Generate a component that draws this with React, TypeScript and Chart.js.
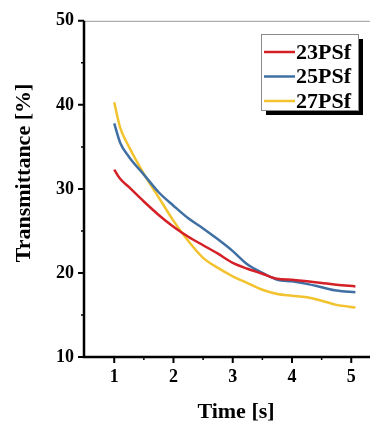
import React, { useEffect, useRef } from "react";
import { Chart, registerables } from "chart.js";

Chart.register(...registerables);

const times = [1, 1.1, 1.25, 1.5, 1.75, 2, 2.25, 2.5, 2.75, 3, 3.25, 3.5, 3.75, 4, 4.25, 4.5, 4.75, 5.07];
const s23 = [32.3, 31.2, 30.2, 28.5, 26.9, 25.5, 24.3, 23.3, 22.3, 21.2, 20.5, 19.9, 19.3, 19.2, 19.0, 18.8, 18.6, 18.4];
const s25 = [37.8, 35.5, 33.8, 31.7, 29.6, 28.0, 26.5, 25.3, 24.0, 22.6, 21.0, 20.0, 19.2, 19.0, 18.7, 18.3, 17.9, 17.7];
const s27 = [40.3, 37.3, 35.0, 31.8, 29.0, 26.2, 23.8, 21.8, 20.6, 19.6, 18.8, 18.0, 17.5, 17.3, 17.1, 16.7, 16.2, 15.9];
const seriesLabels = ["23PSf", "25PSf", "27PSf"];
const seriesColors = ["#d42027", "#3f6fa3", "#f3c22f"];
const xTicks = [1, 2, 3, 4, 5];
const yTicks = [10, 20, 30, 40, 50];
const xMinor = [1.5, 2.5, 3.5, 4.5];
const yMinor = [15, 25, 35, 45];
const xTitle = "Time [s]";
const yTitle = "Transmittance [%]";

const FONT = "'Liberation Serif', 'DejaVu Serif', serif";

const framePlugin = {
  id: "frame",
  afterDraw(chart: any) {
    const { ctx, chartArea } = chart;
    const xs = chart.scales.x;
    const ys = chart.scales.y;
    const { left, right, top, bottom } = chartArea;
    ctx.save();
    ctx.strokeStyle = "#9a9a9a";
    ctx.lineWidth = 1;
    ctx.beginPath();
    ctx.moveTo(left, top + 0.5);
    ctx.lineTo(right, top + 0.5);
    ctx.stroke();
    ctx.strokeStyle = "#000";
    ctx.lineWidth = 2.5;
    ctx.beginPath();
    ctx.moveTo(left, top);
    ctx.lineTo(left, bottom);
    ctx.lineTo(right, bottom);
    ctx.stroke();
    ctx.lineWidth = 2;
    ctx.beginPath();
    yTicks.forEach((v) => {
      const p = ys.getPixelForValue(v);
      ctx.moveTo(left - 6, p);
      ctx.lineTo(left, p);
    });
    xTicks.forEach((v) => {
      const p = xs.getPixelForValue(v);
      ctx.moveTo(p, bottom);
      ctx.lineTo(p, bottom + 6);
    });
    ctx.stroke();
    ctx.lineWidth = 1.5;
    ctx.beginPath();
    yMinor.forEach((v) => {
      const p = ys.getPixelForValue(v);
      ctx.moveTo(left - 3, p);
      ctx.lineTo(left, p);
    });
    xMinor.forEach((v) => {
      const p = xs.getPixelForValue(v);
      ctx.moveTo(p, bottom);
      ctx.lineTo(p, bottom + 3);
    });
    ctx.stroke();

    ctx.fillStyle = "#000";
    ctx.font = `bold 22px ${FONT}`;
    ctx.textAlign = "center";
    ctx.textBaseline = "middle";
    ctx.fillText(xTitle, 236, 412);
    ctx.save();
    ctx.translate(24, 173);
    ctx.rotate(-Math.PI / 2);
    ctx.fillText(yTitle, 0, 0);
    ctx.restore();

    const bx = 261, by = 34, bw = 97, bh = 76;
    ctx.fillStyle = "#000";
    ctx.fillRect(bx + 5, by + 5, bw, bh);
    ctx.fillStyle = "#fff";
    ctx.fillRect(bx, by, bw, bh);
    ctx.strokeStyle = "#8a8a8a";
    ctx.lineWidth = 1;
    ctx.strokeRect(bx + 0.5, by + 0.5, bw, bh);
    ctx.font = `bold 22px ${FONT}`;
    ctx.textAlign = "left";
    ctx.textBaseline = "middle";
    chart.data.datasets.forEach((ds: any, i: number) => {
      const cy = 52 + i * 24.5;
      ctx.strokeStyle = ds.borderColor;
      ctx.lineWidth = 2.5;
      ctx.beginPath();
      ctx.moveTo(bx + 3, cy);
      ctx.lineTo(bx + 34, cy);
      ctx.stroke();
      ctx.fillStyle = "#000";
      ctx.fillText(ds.label, bx + 35, cy + 1);
    });
    ctx.restore();
  },
};

export default function App() {
  const ref = useRef<HTMLCanvasElement | null>(null);
  useEffect(() => {
    if (!ref.current) return;
    const series = [s23, s25, s27];
    const chart = new Chart(ref.current, {
      type: "line",
      data: {
        datasets: series.map((vals, i) => ({
          label: seriesLabels[i],
          data: times.map((t, j) => ({ x: t, y: vals[j] })),
          borderColor: seriesColors[i],
          backgroundColor: seriesColors[i],
          borderWidth: 2.5,
          pointRadius: 0,
          cubicInterpolationMode: "monotone" as const,
          fill: false,
        })),
      },
      options: {
        animation: false,
        responsive: false,
        devicePixelRatio: 1,
        layout: { padding: { top: 18, right: 2, left: 0, bottom: 0 } },
        plugins: { legend: { display: false }, tooltip: { enabled: false } },
        scales: {
          x: {
            type: "linear",
            min: 0.49,
            max: 5.62,
            afterBuildTicks: (s: any) => {
              s.ticks = xTicks.map((v) => ({ value: v }));
            },
            afterFit: (s: any) => {
              s.height = 66;
            },
            grid: { display: false, drawTicks: false },
            border: { display: false },
            ticks: {
              padding: 10,
              maxRotation: 0,
              color: "#000",
              font: { family: FONT, size: 18, weight: "bold" },
            },
          },
          y: {
            type: "linear",
            min: 10,
            max: 50,
            afterBuildTicks: (s: any) => {
              s.ticks = yTicks.map((v) => ({ value: v }));
            },
            afterFit: (s: any) => {
              s.width = 84;
            },
            grid: { display: false, drawTicks: false },
            border: { display: false },
            ticks: {
              padding: 10,
              color: "#000",
              font: { family: FONT, size: 18, weight: "bold" },
            },
          },
        },
      },
      plugins: [framePlugin],
    });
    return () => chart.destroy();
  }, []);
  return (
    <div style={{ position: "fixed", left: 0, top: 0, width: 370, height: 423, overflow: "hidden", background: "#fff" }}>
      <canvas ref={ref} width={390} height={423} style={{ display: "block" }} />
    </div>
  );
}
